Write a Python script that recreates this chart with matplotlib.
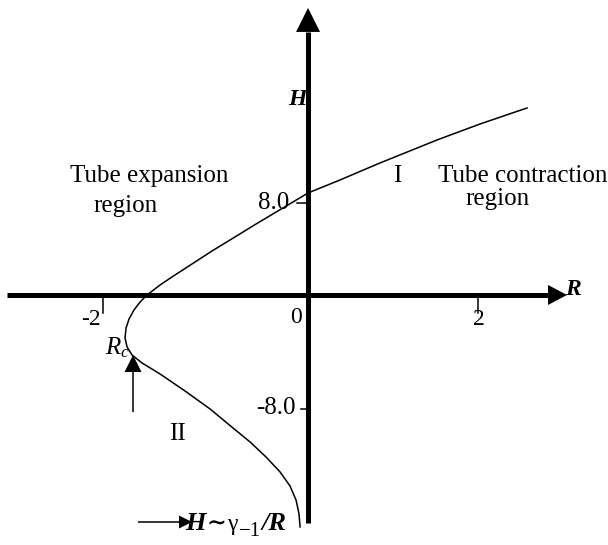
import numpy as np
import matplotlib
matplotlib.use('Agg')
import matplotlib.pyplot as plt

plt.rcParams['font.family'] = ['Liberation Serif', 'DejaVu Serif']
plt.rcParams['mathtext.fontset'] = 'custom'
plt.rcParams['mathtext.rm'] = 'Liberation Serif'
plt.rcParams['mathtext.it'] = 'Liberation Serif:italic'
plt.rcParams['mathtext.bf'] = 'Liberation Serif:bold'
plt.rcParams['mathtext.bfit'] = 'Liberation Serif:italic:bold'

# H(R) curve, from the upper right end down to the bottom
R_curve = [2.576, 2.024, 1.518, 0.847, 0.376, 0.0, -0.294, -0.612, -0.918,
           -1.129, -1.329, -1.565, -1.741, -1.894, -1.976, -2.047, -2.106,
           -2.141, -2.153, -2.129, -2.071, -1.953, -1.741, -1.447, -1.153,
           -0.882, -0.682, -0.494, -0.329, -0.212, -0.141, -0.106, -0.094]
H_curve = [16.26, 14.87, 13.48, 11.48, 10.0, 8.87, 7.57, 6.17, 4.78,
           3.83, 2.87, 1.74, 0.87, 0.0, -0.61, -1.30, -2.09,
           -2.87, -3.74, -4.52, -5.22, -5.91, -6.87, -8.35, -9.91,
           -11.57, -12.78, -14.09, -15.39, -16.61, -17.83, -19.04, -20.17]

# ticks as drawn on the sketch (the sketch is not to scale on the negative side)
R_ticks = [-2.41, 2.0]
R_tick_labels = ['-2', '2']
H_ticks = [8.0, -9.91]
H_tick_labels = ['8.0', '-8.0']

R_lim = (-3.624, 3.529)
H_lim = (-21.74, 25.65)

W, Hpx = 608, 545
PX_R = W / (R_lim[1] - R_lim[0])
PX_H = Hpx / (H_lim[1] - H_lim[0])


def arrow(ax, x0, y0, x1, y1, lw, head_len, head_w):
    # head_len / head_w in pixels
    dx = (x1 - x0) * PX_R
    dy = (y1 - y0) * PX_H
    L = np.hypot(dx, dy)
    ux, uy = dx / L, dy / L
    bx = x1 - ux * head_len / PX_R
    by = y1 - uy * head_len / PX_H
    nx, ny = -uy, ux
    hw = head_w / 2
    xs = [x1, bx + nx * hw / PX_R, bx - nx * hw / PX_R]
    ys = [y1, by + ny * hw / PX_H, by - ny * hw / PX_H]
    ax.plot([x0, bx], [y0, by], color='k', lw=lw, solid_capstyle='butt')
    ax.fill(xs, ys, color='k', lw=0)


def chain(ax, x, y, pieces, gap=1.0):
    # write text pieces one after another; dy is a baseline shift in pixels
    r = fig.canvas.get_renderer()
    for s, kw, dy in pieces:
        t = ax.text(x, y + dy / PX_H, s, ha='left', va='baseline', **kw)
        bb = t.get_window_extent(renderer=r)
        x = R_lim[0] + (bb.x1 + gap) / PX_R


fig = plt.figure(figsize=(W / 100, Hpx / 100), dpi=100)
ax = fig.add_axes([0, 0, 1, 1])
ax.set_xlim(*R_lim)
ax.set_ylim(*H_lim)
ax.axis('off')

# axes with arrows
arrow(ax, -3.541, 0, 3.047, 0, 3.6, 19, 20)
arrow(ax, 0, -19.83, 0, 24.96, 3.6, 24, 24)

# ticks
for r in R_ticks:
    ax.plot([r, r], [0, -1.55], color='k', lw=1.1)
ax.plot([-0.129, 0], [H_ticks[0]] * 2, color='k', lw=1.1)
ax.plot([-0.082, 0], [H_ticks[1]] * 2, color='k', lw=1.1)

fs = 18
ax.text(-2.553, -2.17, R_tick_labels[0], fontsize=17, ha='center', va='center')
ax.text(2.01, -2.09, R_tick_labels[1], fontsize=17, ha='center', va='center')
ax.text(-0.141, -2.0, '0', fontsize=17, ha='center', va='center')
ax.text(-0.224, H_ticks[0], H_tick_labels[0], fontsize=fs, ha='right', va='center')
ax.text(-0.141, -9.83, H_tick_labels[1], fontsize=fs, ha='right', va='center')

# axis names
ax.text(-0.129, 16.96, 'H', fontsize=17, fontweight='bold', style='italic',
        ha='center', va='center')
ax.text(3.118, 0.52, 'R', fontsize=17, fontweight='bold', style='italic',
        ha='center', va='center')

# the curve
ax.plot(R_curve, H_curve, color='k', lw=1.1)

# region labels
ax.text(-2.8, 9.83, 'Tube expansion', fontsize=18, ha='left', va='baseline')
ax.text(-2.529, 7.22, 'region', fontsize=18, ha='left', va='baseline')
ax.text(1.529, 9.83, 'Tube contraction', fontsize=18, ha='left', va='baseline')
ax.text(1.847, 7.83, 'region', fontsize=18, ha='left', va='baseline')
ax.text(1.0, 9.83, 'I', fontsize=18, ha='left', va='baseline')
ax.text(-1.541, -12.61, 'II', fontsize=18, ha='center', va='baseline')

# R_c marker
ax.text(-2.247, -4.61, '$R_c$', fontsize=18, ha='center', va='center')
arrow(ax, -2.059, -10.17, -2.059, -5.22, 1.1, 17, 17)

# asymptote note
arrow(ax, -2.0, -19.74, -1.365, -19.74, 1.1, 13, 13)
bold_it = dict(fontsize=19, fontweight='bold', style='italic')
chain(ax, -1.447, -20.43, [
    ('H', bold_it, 0),
    ('\u223c', dict(fontsize=17, fontweight='bold'), 0),
    ('\u03b3', dict(fontsize=17), 0),
    ('\u22121', dict(fontsize=15), -6),
    ('/R', bold_it, 0),
])

fig.savefig('out.png', dpi=100)
